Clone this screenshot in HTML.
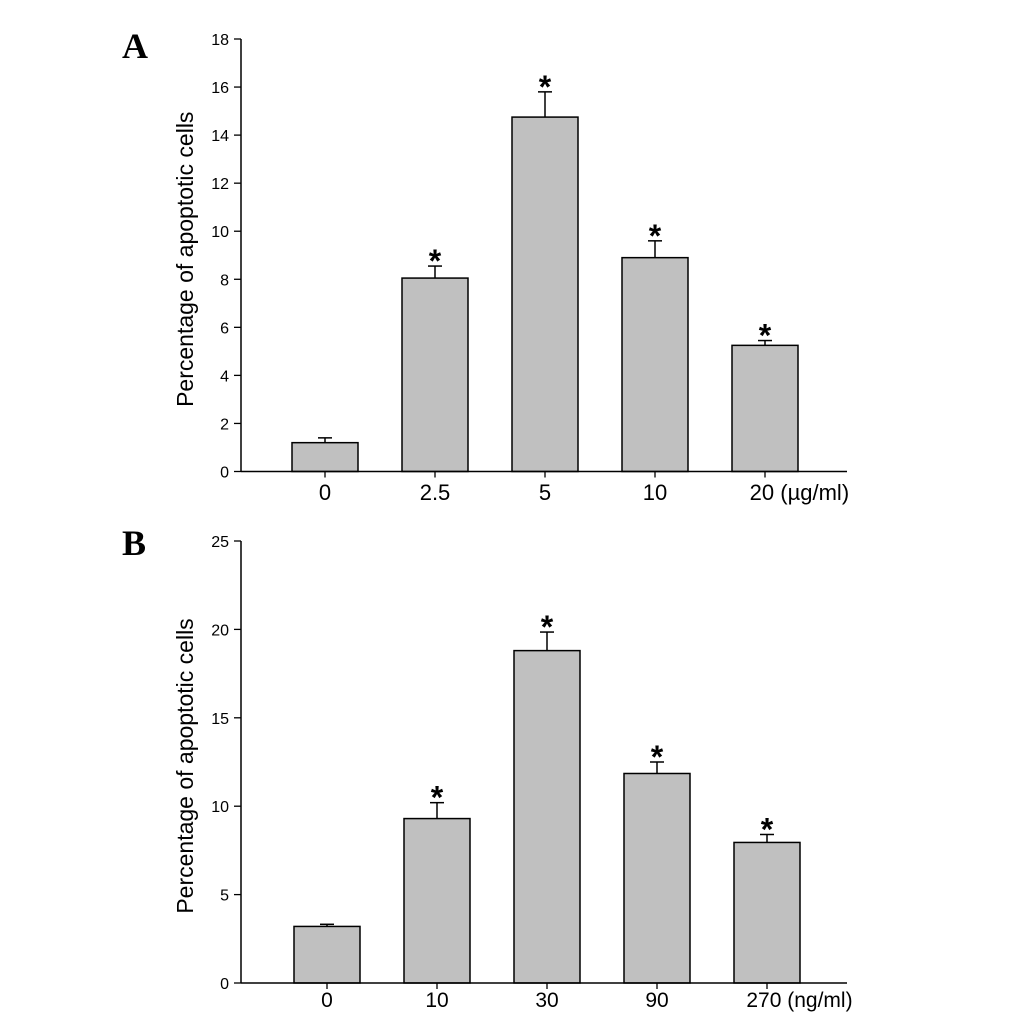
<!DOCTYPE html>
<html><head><meta charset="utf-8"><style>
body{margin:0;background:#fff}
svg{display:block}
text{font-family:"Liberation Sans",Arial,sans-serif;fill:#000}
</style></head><body>
<svg id="fig" width="1033" height="1018" viewBox="0 0 1033 1018">
<text x="122" y="58" style="font-family:'Liberation Serif',serif;font-weight:bold;font-size:36px">A</text>
<text x="122" y="555" style="font-family:'Liberation Serif',serif;font-weight:bold;font-size:36px">B</text>
<g id="pa"></g>
<g id="pb"></g>
</svg>
<script>
const catsA = ["0","2.5","5","10","20"];
const valsA = [1.2, 8.05, 14.75, 8.9, 5.25];
const errA = [0.2, 0.5, 1.05, 0.7, 0.2];
const sigA = [false, true, true, true, true];
const ticksA = [0,2,4,6,8,10,12,14,16,18];
const unitA = "(µg/ml)";

const catsB = ["0","10","30","90","270"];
const valsB = [3.2, 9.3, 18.8, 11.85, 7.95];
const errB = [0.12, 0.9, 1.05, 0.65, 0.45];
const sigB = [false, true, true, true, true];
const ticksB = [0,5,10,15,20,25];
const unitB = "(ng/ml)";

const NS = "http://www.w3.org/2000/svg";
function mk(parent, tag, attrs){const e=document.createElementNS(NS,tag);for(const k in attrs)e.setAttribute(k,attrs[k]);parent.appendChild(e);return e;}

function draw(g, cats, vals, errs, sig, ticks, unit, y0, y1, axisEnd, firstCenter, labelSize, labelY){
  const x0 = 241, maxV = ticks[ticks.length-1];
  const ys = v => y0 - (v/maxV)*(y0-y1);
  const step = 110, bw = 66;
  const xc = i => firstCenter + i*step;
  let l = mk(g,'line',{x1:x0,y1:y1,x2:x0,y2:y0,stroke:'#000','stroke-width':1.5});
   
  ticks.forEach(t=>{
    const ty = ys(t);
    const tk = mk(g,'line',{x1:x0-7,y1:ty,x2:x0,y2:ty,stroke:'#000','stroke-width':1.3});
     
    const tx = mk(g,'text',{x:x0-12,y:ty+6,'text-anchor':'end','font-size':16});
    tx.textContent = t;
     
  });
  vals.forEach((v,i)=>{
    const c = xc(i), top = ys(v), et = ys(v+errs[i]);
    const eb = mk(g,'line',{x1:c,y1:top,x2:c,y2:et,stroke:'#000','stroke-width':1.5});
     
    const cap = mk(g,'line',{x1:c-7,y1:et,x2:c+7,y2:et,stroke:'#000','stroke-width':1.5});
     
    const r = mk(g,'rect',{x:c-bw/2,y:top,width:bw,height:y0-top,fill:'#c0c0c0',stroke:'#000','stroke-width':1.5});
     
    if(sig[i]){
      const s = mk(g,'text',{x:c,y:et+6,'text-anchor':'middle','font-size':32,'font-weight':'bold'});
      s.textContent='*';
       
    }
    const xt = mk(g,'line',{x1:c,y1:y0,x2:c,y2:y0+6,stroke:'#000','stroke-width':1.3});
     
    const lab = mk(g,'text',{x:c,y:labelY,'text-anchor':'middle','font-size':labelSize});
    lab.textContent = cats[i];
     
    if(i===cats.length-1){
      lab.setAttribute('text-anchor','start');
      lab.setAttribute('x', c - (cats[i].length*labelSize*0.28) - 3);
      lab.textContent = cats[i] + ' ' + unit;
    }
  });
  const xa = mk(g,'line',{x1:x0,y1:y0,x2:axisEnd,y2:y0,stroke:'#000','stroke-width':1.5});
   
  const yt = mk(g,'text',{x:0,y:0,'text-anchor':'middle','font-size':23,transform:`translate(193,${(y0+y1)/2+4}) rotate(-90)`});
  yt.textContent='Percentage of apoptotic cells';
   
}
draw(document.getElementById('pa'), catsA, valsA, errA, sigA, ticksA, unitA, 471.5, 39, 847, 325, 22, 500);
draw(document.getElementById('pb'), catsB, valsB, errB, sigB, ticksB, unitB, 983, 541, 847, 327, 21, 1007);
</script>
</body></html>
